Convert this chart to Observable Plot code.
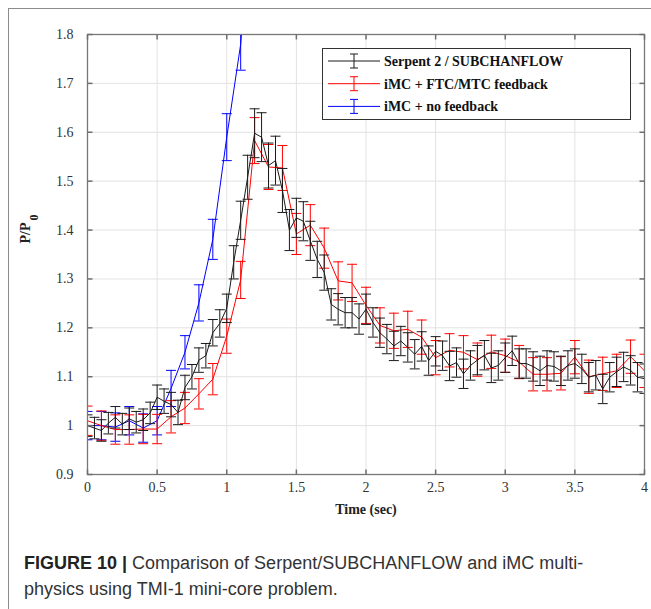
<!DOCTYPE html>
<html><head><meta charset="utf-8">
<script src="https://cdn.jsdelivr.net/npm/d3@7"></script>
<script src="https://cdn.jsdelivr.net/npm/@observablehq/plot@0.6"></script>
<style>
html,body{margin:0;padding:0;background:#fff;}
#fig{position:relative;width:651px;height:609px;overflow:hidden;background:#fff;}
#border{position:absolute;left:8px;top:8px;width:800px;height:800px;border-left:1.5px solid #8c8c8c;border-top:1.5px solid #8c8c8c;}
#chart{position:absolute;left:0;top:0;}
#chart svg text{font-family:"Liberation Serif","Times New Roman",serif !important;}
#legend{position:absolute;left:322px;top:48px;}
#caption{position:absolute;left:24px;top:550px;font-family:"Liberation Sans",Arial,sans-serif;font-size:18px;line-height:26px;color:#333;white-space:nowrap;}
#caption b{color:#222;margin-right:5px;}
</style></head><body>
<div id="fig"><div id="border"></div><div id="chart"></div><div id="legend"></div>
<div id="caption"><div><b>FIGURE 10 |</b><span>Comparison of Serpent/SUBCHANFLOW and iMC multi-</span></div><div>physics using TMI-1 mini-core problem.</div></div></div>
<script>
// ---------- data ----------
const seriesNames = ["Serpent 2 / SUBCHANFLOW", "iMC + FTC/MTC feedback", "iMC + no feedback"];
const seriesColors = ["#1a1a1a", "#ff0000", "#0000ff"];
const xTicks = [0, 0.5, 1, 1.5, 2, 2.5, 3, 3.5, 4];
const xTickLabels = ["0", "0.5", "1", "1.5", "2", "2.5", "3", "3.5", "4"];
const yTicks = [0.9, 1.0, 1.1, 1.2, 1.3, 1.4, 1.5, 1.6, 1.7, 1.8];
const yTickLabels = ["0.9", "1", "1.1", "1.2", "1.3", "1.4", "1.5", "1.6", "1.7", "1.8"];

const serpentTime = [0,0.05,0.1,0.15,0.2,0.25,0.3,0.35,0.4,0.45,0.5,0.55,0.6,0.65,0.7,0.75,0.8,0.85,0.9,0.95,
  1,1.05,1.1,1.15,1.2,1.25,1.3,1.35,1.4,1.45,1.5,1.55,1.6,1.65,1.7,1.75,1.8,1.85,1.9,1.95,
  2,2.05,2.1,2.15,2.2,2.25,2.3,2.35,2.4,2.45,2.5,2.55,2.6,2.65,2.7,2.75,2.8,2.85,2.9,2.95,
  3,3.05,3.1,3.15,3.2,3.25,3.3,3.35,3.4,3.45,3.5,3.55,3.6,3.65,3.7,3.75,3.8,3.85,3.9,3.95,4];
const serpentValue = [1.000,0.995,0.990,1.005,1.017,1.003,1.014,1.007,1.012,1.026,1.058,1.050,1.043,1.027,1.078,1.100,1.134,1.143,1.190,1.209,
  1.240,1.334,1.420,1.508,1.598,1.590,1.532,1.542,1.481,1.400,1.425,1.418,1.378,1.340,1.313,1.248,1.238,1.231,1.231,1.218,
  1.238,1.211,1.190,1.177,1.163,1.173,1.160,1.146,1.162,1.133,1.152,1.143,1.122,1.129,1.106,1.123,1.134,1.144,1.118,1.123,
  1.139,1.153,1.127,1.127,1.121,1.112,1.123,1.121,1.112,1.123,1.127,1.116,1.099,1.103,1.075,1.099,1.110,1.120,1.113,1.099,1.096];
const serpentError = [0.022,0.022,0.022,0.022,0.022,0.022,0.022,0.022,0.022,0.022,0.025,0.025,0.025,0.025,0.025,0.025,0.025,0.025,0.027,0.028,
  0.029,0.034,0.039,0.045,0.050,0.050,0.046,0.050,0.045,0.042,0.040,0.040,0.040,0.037,0.036,0.032,0.032,0.031,0.031,0.031,
  0.031,0.030,0.030,0.030,0.030,0.030,0.030,0.030,0.030,0.030,0.030,0.030,0.030,0.030,0.030,0.030,0.030,0.030,0.030,0.030,
  0.030,0.030,0.030,0.030,0.030,0.030,0.030,0.030,0.030,0.030,0.030,0.030,0.030,0.030,0.030,0.030,0.030,0.030,0.030,0.030,0.030];

const ftcTime = [0,0.1,0.2,0.3,0.4,0.5,0.6,0.7,0.8,0.9,1,1.1,1.2,1.3,1.4,1.5,1.6,1.7,1.8,1.9,2,
  2.1,2.2,2.3,2.4,2.5,2.6,2.7,2.8,2.9,3,3.1,3.2,3.3,3.4,3.5,3.6,3.7,3.8,3.9,4];
const ftcValue = [1.010,1.000,0.992,0.992,0.993,0.993,1.018,1.036,1.065,1.095,1.183,1.298,1.583,1.529,1.527,1.392,1.410,1.363,1.296,1.292,1.246,
  1.205,1.194,1.197,1.181,1.139,1.154,1.150,1.135,1.151,1.143,1.130,1.105,1.105,1.107,1.140,1.100,1.106,1.112,1.141,1.112];
const ftcError = [0.030,0.030,0.030,0.030,0.030,0.030,0.033,0.032,0.031,0.032,0.035,0.038,0.047,0.046,0.046,0.042,0.042,0.041,0.039,0.038,0.037,
  0.036,0.036,0.037,0.035,0.035,0.034,0.034,0.034,0.034,0.034,0.034,0.034,0.034,0.034,0.034,0.034,0.034,0.034,0.034,0.034];

const noFbTime = [0,0.1,0.2,0.3,0.4,0.5,0.6,0.7,0.8,0.9,1,1.1,1.2];
const noFbValue = [1.000,1.000,0.997,1.010,0.995,1.010,1.076,1.150,1.251,1.381,1.590,1.780,2.150];
const noFbError = [0.029,0.029,0.029,0.029,0.029,0.029,0.037,0.034,0.037,0.041,0.048,0.053,0.065];

// ---------- build ----------
const build = (time, value, error, s) => time.map((t, i) => ({t, v: value[i], e: error[i], s}));
const series = [
  build(serpentTime, serpentValue, serpentError, 0),
  build(ftcTime, ftcValue, ftcError, 1),
  build(noFbTime, noFbValue, noFbError, 2)
];

// custom symbols (pixel-sized caps and inward ticks)
const capSym = {draw(ctx, size) { const w = Math.sqrt(size / Math.PI); ctx.moveTo(-w, 0); ctx.lineTo(w, 0); }};
const tickUp = {draw(ctx, size) { const w = Math.sqrt(size / Math.PI); ctx.moveTo(0, 0); ctx.lineTo(0, -w); }};
const tickDown = {draw(ctx, size) { const w = Math.sqrt(size / Math.PI); ctx.moveTo(0, 0); ctx.lineTo(0, w); }};
const tickRight = {draw(ctx, size) { const w = Math.sqrt(size / Math.PI); ctx.moveTo(0, 0); ctx.lineTo(w, 0); }};
const tickLeft = {draw(ctx, size) { const w = Math.sqrt(size / Math.PI); ctx.moveTo(0, 0); ctx.lineTo(-w, 0); }};

const marks = [
  Plot.ruleX(xTicks, {stroke: "#e2e2e2", strokeWidth: 1}),
  Plot.ruleY(yTicks, {stroke: "#e2e2e2", strokeWidth: 1})
];
// draw order: blue, red, black (black on top)
[2, 1, 0].forEach(k => {
  const d = series[k], c = seriesColors[k];
  marks.push(
    Plot.ruleX(d, {x: "t", y1: r => r.v - r.e, y2: r => r.v + r.e, stroke: c, strokeWidth: 1, clip: true}),
    Plot.dot(d, {x: "t", y: r => r.v - r.e, symbol: capSym, r: 5, stroke: c, strokeWidth: 1, fill: "none", clip: true}),
    Plot.dot(d, {x: "t", y: r => r.v + r.e, symbol: capSym, r: 5, stroke: c, strokeWidth: 1, fill: "none", clip: true}),
    Plot.line(d, {x: "t", y: "v", stroke: c, strokeWidth: 1, clip: true})
  );
});
const tickColor = "#6e6e6e";
marks.push(
  Plot.frame({stroke: "#777", strokeWidth: 1.3}),
  Plot.dot(xTicks, {x: d => d, y: () => 0.9, symbol: tickUp, r: 5, stroke: tickColor, fill: "none"}),
  Plot.dot(xTicks, {x: d => d, y: () => 1.8, symbol: tickDown, r: 5, stroke: tickColor, fill: "none"}),
  Plot.dot(yTicks, {y: d => d, x: () => 0, symbol: tickRight, r: 5, stroke: tickColor, fill: "none"}),
  Plot.dot(yTicks, {y: d => d, x: () => 4, symbol: tickLeft, r: 5, stroke: tickColor, fill: "none"}),
  Plot.text(["Time (sec)"], {frameAnchor: "bottom", dy: 39, fontWeight: "bold", fontSize: 14, fill: "#222"}),
  Plot.text(["P/P"], {frameAnchor: "left", dx: -62, dy: -11, rotate: -90, fontWeight: "bold", fontSize: 14, fill: "#222"}),
  Plot.text(["0"], {frameAnchor: "left", dx: -53, dy: -34, rotate: -90, fontWeight: "bold", fontSize: 12, fill: "#222"})
);

const chart = Plot.plot({
  width: 651,
  height: 530,
  marginLeft: 87,
  marginRight: 7,
  marginTop: 34,
  marginBottom: 56,
  style: {fontFamily: "'Liberation Serif', 'Times New Roman', serif", fontSize: "14px", color: "#333", background: "transparent"},
  x: {domain: [0, 4], ticks: xTicks, tickFormat: d => xTickLabels[xTicks.indexOf(d)], tickSize: 0, tickPadding: 8, label: null},
  y: {domain: [0.9, 1.8], ticks: yTicks, tickFormat: d => yTickLabels[yTicks.findIndex(v => Math.abs(v - d) < 1e-9)], tickSize: 0, tickPadding: 14, label: null},
  marks
});
document.getElementById("chart").appendChild(chart);

// ---------- legend ----------
const lw = 308, lh = 71;
const leg = d3.select("#legend").append("svg").attr("width", lw + 1).attr("height", lh + 1);
leg.append("rect").attr("x", 0.5).attr("y", 0.5).attr("width", lw).attr("height", lh)
  .attr("fill", "#fff").attr("stroke", "#333").attr("stroke-width", 1);
seriesNames.forEach((name, i) => {
  const y = 13 + i * 22.7, c = seriesColors[i];
  const g = leg.append("g").attr("stroke", c).attr("stroke-width", 1);
  g.append("line").attr("x1", 6).attr("x2", 58).attr("y1", y).attr("y2", y);
  g.append("line").attr("x1", 32).attr("x2", 32).attr("y1", y - 7).attr("y2", y + 7);
  g.append("line").attr("x1", 28).attr("x2", 36).attr("y1", y - 7).attr("y2", y - 7);
  g.append("line").attr("x1", 28).attr("x2", 36).attr("y1", y + 7).attr("y2", y + 7);
  leg.append("text").attr("x", 62).attr("y", y).attr("dy", "0.35em")
    .attr("font-family", "'Liberation Serif', serif").attr("font-size", 14).attr("font-weight", "bold")
    .attr("fill", "#111").text(name);
});
</script>
</body></html>
